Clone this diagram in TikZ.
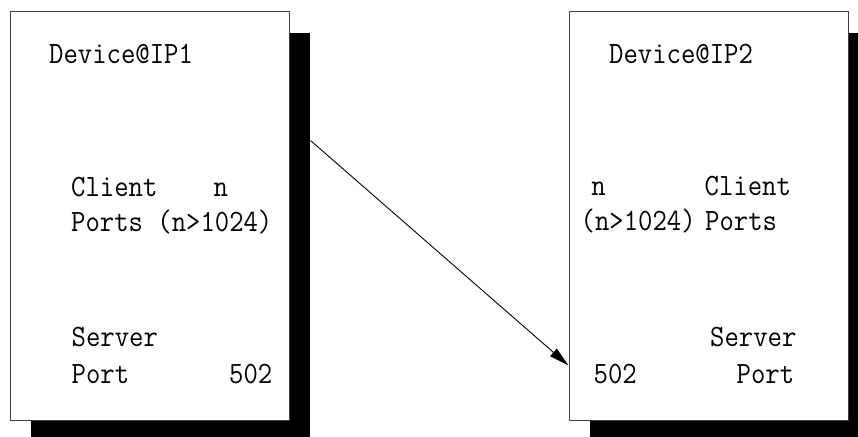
\documentclass[tikz,border=0pt]{standalone}
\usepackage{fontspec}
\usetikzlibrary{arrows.meta,shadows}
\newfontfamily\portfont[Extension=.otf, FakeStretch=0.9]{lmmono12-regular}
\definecolor{edge}{HTML}{404040}
\tikzset{
  devbox/.style={rectangle, draw=edge, line width=1pt, fill=white, minimum width=279pt, minimum height=408pt,
    drop shadow={shadow xshift=21pt, shadow yshift=-21pt, opacity=1, fill=black}},
  lbl/.style={anchor=base west, inner sep=0pt, font=\portfont\fontsize{31}{31}\selectfont},
  link/.style={-{Triangle[length=20pt, width=10pt]}, line width=0.9pt},
}

\begin{document}
\begin{tikzpicture}[x=1pt, y=1pt]
  \useasboundingbox (0,0) rectangle (858,436);
  \node[devbox] (dev1) at (149.5,220) {};
  \node[devbox] (dev2) at (708.5,220) {};
  % left device
  \node[lbl] (name1) at (49,372) {Device@IP1};
  \node[lbl] (cli1) at (71,239) {Client};
  \node[lbl] (n1) at (213.5,239) {n};
  \node[lbl] (cport1) at (71,204.5) {Ports (n>1024)};
  \node[lbl] (srv1) at (71.5,89.3) {Server};
  \node[lbl] (sport1) at (71.5,52.7) {Port};
  \node[lbl] (num1) at (229,52.7) {502};
  % right device
  \node[lbl] (name2) at (609,372) {Device@IP2};
  \node[lbl] (n2) at (591.2,240.3) {n};
  \node[lbl] (cli2) at (704.5,240.3) {Client};
  \node[lbl] (rng2) at (580.5,205) {(n>1024)};
  \node[lbl] (cport2) at (705,205) {Ports};
  \node[lbl] (srv2) at (710,89.3) {Server};
  \node[lbl] (num2) at (593.5,52.7) {502};
  \node[lbl] (sport2) at (736.5,52.7) {Port};
  % request
  \coordinate (out1) at ([xshift=21pt, yshift=-129pt]dev1.north east);
  \coordinate (in2) at ([yshift=-354pt]dev2.north west);
  \draw[link] (out1) -- (in2);
\end{tikzpicture}
\end{document}
